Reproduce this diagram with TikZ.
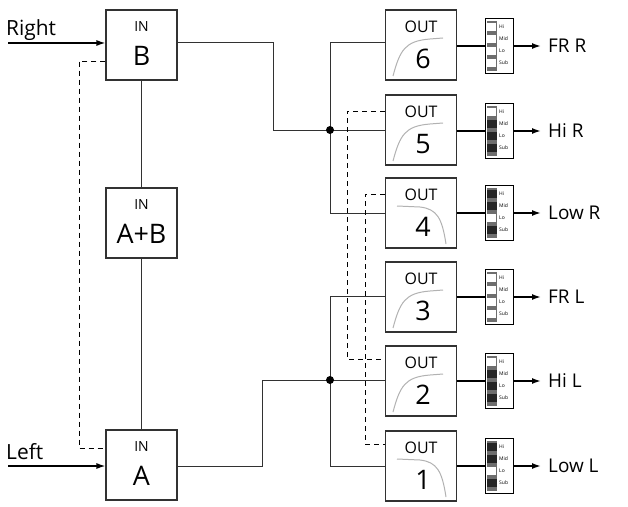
\documentclass[tikz,border=0pt]{standalone}
\usepackage{fontspec}
\setmainfont{Open Sans}
\usetikzlibrary{arrows.meta,calc}
\definecolor{ln}{RGB}{50,50,50}
\definecolor{swg}{RGB}{110,110,110}
\begin{document}
\begin{tikzpicture}[x=1bp,y=-1bp,
  box/.style={draw=ln,line width=1.1pt,fill=white,minimum width=71bp,minimum height=70bp,inner sep=0pt},
  wire/.style={draw=ln,line width=1pt},
  dsh/.style={draw=black,line width=0.8pt,dash pattern=on 5bp off 4bp},
  outw/.style={draw=black,line width=1.4pt},
  arr/.style={draw=black,line width=1.6pt,-{Latex[length=9bp,width=6bp]}},
  curve/.style={draw=gray!60,line width=1pt},
  lbl/.style={font=\fontsize{21}{21}\selectfont,anchor=west,inner sep=0pt}]
\useasboundingbox (0,0) rectangle (628,507);
% input boxes
\node[box] (inB) at (141.5,45) {};
\node[box] (inAB) at (141.5,223) {};
\node[box] (inA) at (141.5,465) {};
\foreach \n/\t in {inB/B,inAB/A+B,inA/A}{
  \node[font=\fontsize{14}{14}\selectfont] at ($(\n.north)+(0,17)$) {IN};
  \node[font=\fontsize{27}{27}\selectfont] at ($(\n.north)+(0,46)$) {\t};
}
\draw[wire] (inB) -- (inAB) -- (inA);
% inputs
\coordinate (rs) at (8,43);
\coordinate (ls) at (8,466);
\node[lbl,anchor=base west] (rt) at (6,36) {Right};
\node[lbl,anchor=base west] (lt) at (6,459) {Left};
\draw[arr,line width=1.4pt] (rs) -- (rs -| inB.west);
\draw[arr,line width=1.4pt] (ls) -- (ls -| inA.west);
\coordinate (db) at (79,61);
\coordinate (da) at (79,448);
\draw[dsh] (db -| inB.west) -- (db) -- (da) -- (da -| inA.west);
% output boxes
\newcommand\mkout[4]{% name, top, digit, type
  \node[box] (#1) at (421,#2+35) {};
  \node[font=\fontsize{16}{16}\selectfont] at (421,#2+17) {OUT};
  \node[font=\fontsize{27}{27}\selectfont] at (423,#2+49) {#3};
  \ifnum#4=0
    \draw[curve] (393,#2+66) .. controls (400,#2+40) and (405,#2+31) .. (430,#2+29) -- (443,#2+28);
  \else
    \draw[curve] (397,#2+28) -- (420,#2+29) .. controls (437,#2+31) and (442,#2+40) .. (446,#2+66);
  \fi
}
\mkout{o6}{10}{6}{0}
\mkout{o5}{95}{5}{0}
\mkout{o4}{178}{4}{1}
\mkout{o3}{262}{3}{0}
\mkout{o2}{346}{2}{0}
\mkout{o1}{431}{1}{1}
% switches
\newcommand\mksw[6]{% name, cy, hi, mid, lo, sub
  \node[draw=black,line width=0.8pt,fill=white,minimum width=28bp,minimum height=55bp,inner sep=0pt] (#1) at (499.5,#2) {};
  \fill[swg] (487,#2-25) rectangle (497,#2+25);
  \foreach \k/\st/\txt in {0/#3/Hi,1/#4/Mid,2/#5/Lo,3/#6/Sub}{
    \ifnum\st=1 \fill[black!85] (487,#2-23+\k*12) rectangle (497,#2-15+\k*12);
    \else \fill[white] (487,#2-23+\k*12) rectangle (496,#2-15+\k*12); \fi
    \node[font=\fontsize{5}{5}\selectfont,anchor=west,inner sep=0pt] at (499,#2-19+\k*12) {\txt};
  }
}
\mksw{s6}{46}{0}{0}{0}{0}
\mksw{s5}{131}{0}{1}{1}{1}
\mksw{s4}{213}{1}{1}{0}{1}
\mksw{s3}{297}{0}{0}{0}{0}
\mksw{s2}{381}{0}{1}{1}{1}
\mksw{s1}{466}{1}{1}{0}{1}
\foreach \o/\sw/\t/\y in {o6/s6/FR R/46,o5/s5/Hi R/131,o4/s4/Low R/213,o3/s3/FR L/297,o2/s2/Hi L/381,o1/s1/Low L/466}{
  \coordinate (e\sw) at (541,\y);
  \draw[outw] (\o.east |- e\sw) -- (\sw.west |- e\sw);
  \draw[arr] (\sw.east |- e\sw) -- (e\sw);
  \node[lbl,font=\fontsize{19}{19}\selectfont] at (548,\y) {\t};
}
% upper bus
\coordinate (ju) at (330,130);
\coordinate (bu) at (273,130);
\draw[wire] (inB.east |- rs) -- (bu |- rs) -- (bu) -- (ju);
\draw[wire] (ju) -- (o5.west |- ju);
\draw[wire] (o6.west |- rs) -- (ju |- rs) -- (ju |- 0,213) -- (o4.west |- 0,213);
\fill (ju) circle (4bp);
% lower bus
\coordinate (jl) at (330,380);
\coordinate (bl) at (262,380);
\draw[wire] (inA.east |- ls) -- (bl |- ls) -- (bl) -- (jl);
\draw[wire] (jl) -- (o2.west |- jl);
\draw[wire] (o3.west |- 0,296) -- (jl |- 0,296) -- (jl |- ls) -- (o1.west |- ls);
\fill (jl) circle (4bp);
% dashed links
\coordinate (d5) at (347,111);
\coordinate (d2) at (347,359);
\draw[dsh] (o5.west |- d5) -- (d5) -- (d2) -- (o2.west |- d2);
\coordinate (d4) at (365,194);
\coordinate (d1) at (365,444);
\draw[dsh] (o4.west |- d4) -- (d4) -- (d1) -- (o1.west |- d1);
\end{tikzpicture}
\end{document}
